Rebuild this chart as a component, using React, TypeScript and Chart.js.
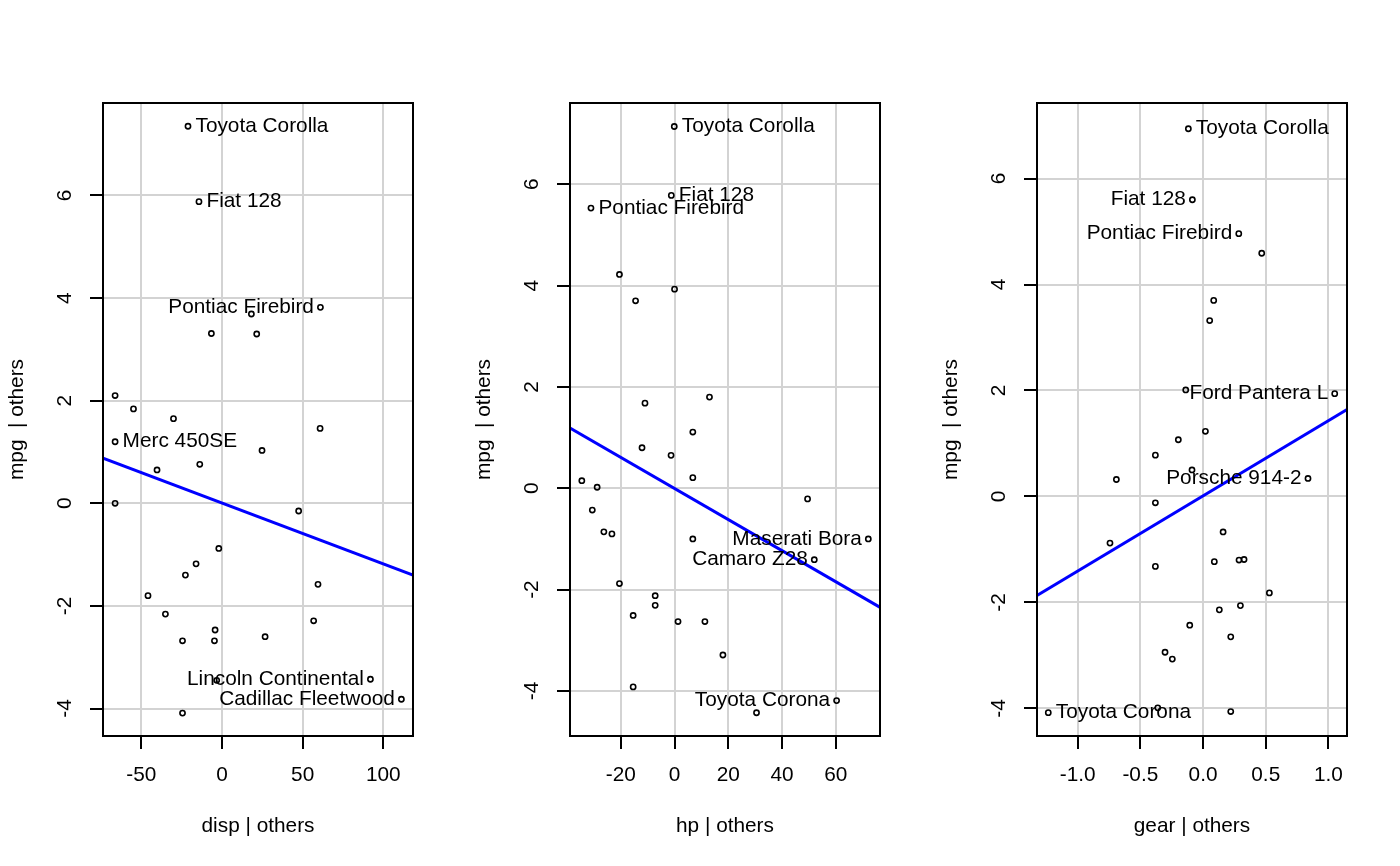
import React, { useEffect, useRef } from 'react';
import { Chart, registerables } from 'chart.js';

Chart.register(...registerables);

const FONT_FAMILY = '"Liberation Sans", Arial, Helvetica, sans-serif';
const FONT_SIZE = 20.8;

// ---------- shared ----------
const yTicks = [-4, -2, 0, 2, 4, 6];
const yTickLabels = ['-4', '-2', '0', '2', '4', '6'];
const yTitle = 'mpg  | others';

// ---------- panel 1 : disp ----------
const dispX = [-21.1, -14.3, 61.0, -66.3, 92.0, 111.2,
  18.2, -6.6, 21.5, -66.3, -54.9, -30.1, 60.8, 24.8, -40.3, -13.8, -66.3, 47.5,
  -2.0, -16.1, -22.7, -45.9, 59.5, -35.1, 56.8, -4.3, -24.5, -4.7, 26.7, -3.3, -24.5];
const dispY = [7.35, 5.88, 3.82, 1.20, -3.43, -3.82,
  3.69, 3.31, 3.30, 2.10, 1.84, 1.65, 1.46, 1.03, 0.65, 0.76, 0.0, -0.15,
  -0.88, -1.18, -1.40, -1.80, -1.58, -2.16, -2.29, -2.47, -2.68, -2.68, -2.60, -3.45, -4.09];
const dispNames = ['Toyota Corolla', 'Fiat 128', 'Pontiac Firebird', 'Merc 450SE', 'Lincoln Continental', 'Cadillac Fleetwood'];
const dispSides = ['right', 'right', 'left', 'right', 'left', 'left'];
const dispTicks = [-50, 0, 50, 100];
const dispTickLabels = ['-50', '0', '50', '100'];
const dispLineX = [-73.8, 118.4];
const dispLineY = [0.88, -1.40];

// ---------- panel 2 : hp ----------
const hpX = [-0.1, -1.2, -31.1, 72.1, 52.0, 60.3,
  -20.5, -14.5, 0.0, -11.0, 13.0, 6.8, -12.1, -1.3, 6.8, -34.5, -28.8, -30.6, 49.5,
  -26.3, -23.3, 6.8, -20.5, -7.2, -7.2, -15.4, 1.3, 11.3, 18.0, -15.4, 30.5];
const hpY = [7.14, 5.78, 5.53, -1.00, -1.41, -4.19,
  4.22, 3.70, 3.93, 1.68, 1.80, 1.11, 0.80, 0.65, 0.21, 0.15, 0.02, -0.43, -0.21,
  -0.86, -0.90, -1.00, -1.88, -2.12, -2.31, -2.51, -2.63, -2.63, -3.29, -3.92, -4.43];
const hpNames = ['Toyota Corolla', 'Fiat 128', 'Pontiac Firebird', 'Maserati Bora', 'Camaro Z28', 'Toyota Corona'];
const hpSides = ['right', 'right', 'right', 'left', 'left', 'left'];
const hpTicks = [-20, 0, 20, 40, 60];
const hpTickLabels = ['-20', '0', '20', '40', '60'];
const hpLineX = [-38.9, 76.5];
const hpLineY = [1.19, -2.35];

// ---------- panel 3 : gear ----------
const gearX = [-0.117, -0.085, 0.285, 1.050, 0.837, -1.234,
  0.468, 0.085, 0.053, -0.138, 0.019, -0.197, -0.380, -0.088, -0.691, -0.380,
  -0.742, 0.160, -0.380, 0.090, 0.287, 0.327, 0.529, 0.130, 0.298, -0.106, 0.221,
  -0.303, -0.245, -0.361, 0.221];
const gearY = [6.94, 5.60, 4.96, 1.94, 0.34, -4.08,
  4.59, 3.70, 3.32, 2.01, 1.23, 1.07, 0.78, 0.50, 0.32, -0.12,
  -0.88, -0.67, -1.32, -1.23, -1.20, -1.19, -1.82, -2.14, -2.06, -2.43, -2.65,
  -2.94, -3.07, -3.99, -4.06];
const gearNames = ['Toyota Corolla', 'Fiat 128', 'Pontiac Firebird', 'Ford Pantera L', 'Porsche 914-2', 'Toyota Corona'];
const gearSides = ['right', 'left', 'left', 'left', 'left', 'right'];
const gearTicks = [-1.0, -0.5, 0.0, 0.5, 1.0];
const gearTickLabels = ['-1.0', '-0.5', '0.0', '0.5', '1.0'];
const gearLineX = [-1.324, 1.148];
const gearLineY = [-1.87, 1.64];

type PanelProps = {
  left: number;
  xs: number[];
  ys: number[];
  names: string[];
  sides: string[];
  xTicks: number[];
  xTickLabels: string[];
  xMin: number;
  xMax: number;
  yMin: number;
  yMax: number;
  lineX: number[];
  lineY: number[];
  xTitle: string;
};

const W = 466;
const H = 866;

function Panel(p: PanelProps) {
  const ref = useRef<HTMLCanvasElement | null>(null);
  useEffect(() => {
    if (!ref.current) return;
    const font = { family: FONT_FAMILY, size: FONT_SIZE };
    const decor = {
      id: 'decor',
      afterDatasetsDraw(chart: any) {
        const ctx = chart.ctx;
        const meta = chart.getDatasetMeta(1);
        ctx.save();
        ctx.font = `${FONT_SIZE}px ${FONT_FAMILY}`;
        ctx.fillStyle = '#000';
        ctx.textBaseline = 'middle';
        p.names.forEach((name, i) => {
          const el = meta.data[i];
          if (!el || !name) return;
          if (p.sides[i] === 'right') {
            ctx.textAlign = 'left';
            ctx.fillText(name, el.x + 7.5, el.y);
          } else {
            ctx.textAlign = 'right';
            ctx.fillText(name, el.x - 6.5, el.y);
          }
        });
        ctx.restore();
      },
      afterDraw(chart: any) {
        const { ctx, chartArea } = chart;
        ctx.save();
        ctx.strokeStyle = '#000';
        ctx.lineWidth = 2;
        ctx.strokeRect(chartArea.left, chartArea.top, chartArea.right - chartArea.left, chartArea.bottom - chartArea.top);
        ctx.restore();
      },
    };
    const chart = new Chart(ref.current, {
      type: 'scatter',
      data: {
        datasets: [
          {
            type: 'line',
            data: p.lineX.map((x, i) => ({ x, y: p.lineY[i] })),
            borderColor: '#0000FF',
            borderWidth: 3,
            pointRadius: 0,
            showLine: true,
            fill: false,
            tension: 0,
          } as any,
          {
            data: p.xs.map((x, i) => ({ x, y: p.ys[i] })),
            pointStyle: 'circle',
            pointRadius: 2.6,
            pointBorderWidth: 1.6,
            borderColor: '#000',
            backgroundColor: 'rgba(0,0,0,0)',
            pointBackgroundColor: 'rgba(0,0,0,0)',
            pointBorderColor: '#000',
          } as any,
        ],
      },
      options: {
        animation: false,
        responsive: false,
        maintainAspectRatio: false,
        events: [],
        layout: { padding: { top: 103, right: 53, left: 0, bottom: 0 } },
        plugins: { legend: { display: false }, tooltip: { enabled: false }, title: { display: false } },
        scales: {
          x: {
            type: 'linear',
            min: p.xMin,
            max: p.xMax,
            afterBuildTicks: (s: any) => {
              s.ticks = p.xTicks.map((v) => ({ value: v }));
            },
            afterFit: (s: any) => {
              s.height = 130;
            },
            ticks: {
              autoSkip: false,
              maxRotation: 0,
              minRotation: 0,
              padding: 13.5,
              color: '#000',
              font,
              callback: (_v: any, i: number) => p.xTickLabels[i],
            },
            grid: { color: '#D3D3D3', lineWidth: 2, tickColor: '#000', tickLength: 13, tickWidth: 2 },
            border: { display: false },
            title: { display: true, text: p.xTitle, color: '#000', font, padding: { top: 0, bottom: 27.5 } },
          },
          y: {
            type: 'linear',
            min: p.yMin,
            max: p.yMax,
            afterBuildTicks: (s: any) => {
              s.ticks = yTicks.map((v) => ({ value: v }));
            },
            afterFit: (s: any) => {
              s.width = 103;
            },
            ticks: {
              autoSkip: false,
              minRotation: 90,
              maxRotation: 90,
              crossAlign: 'center',
              padding: 15.75,
              color: '#000',
              font,
              callback: (_v: any, i: number) => yTickLabels[i],
            },
            grid: { color: '#D3D3D3', lineWidth: 2, tickColor: '#000', tickLength: 13, tickWidth: 2 },
            border: { display: false },
            title: { display: true, text: yTitle, color: '#000', font, padding: { top: 4.5, bottom: 0 } },
          },
        },
      } as any,
      plugins: [decor],
    });
    return () => chart.destroy();
  }, []);
  return (
    <canvas
      ref={ref}
      width={W}
      height={H}
      style={{ position: 'absolute', left: p.left, top: 0, width: W, height: H }}
    />
  );
}

export default function App() {
  return (
    <div style={{ position: 'fixed', left: 0, top: 0, width: 1400, height: 866, background: '#fff' }}>
      <Panel
        left={0}
        xs={dispX}
        ys={dispY}
        names={dispNames}
        sides={dispSides}
        xTicks={dispTicks}
        xTickLabels={dispTickLabels}
        xMin={-73.8}
        xMax={118.4}
        yMin={-4.536}
        yMax={7.803}
        lineX={dispLineX}
        lineY={dispLineY}
        xTitle="disp | others"
      />
      <Panel
        left={467}
        xs={hpX}
        ys={hpY}
        names={hpNames}
        sides={hpSides}
        xTicks={hpTicks}
        xTickLabels={hpTickLabels}
        xMin={-38.9}
        xMax={76.45}
        yMin={-4.889}
        yMax={7.604}
        lineX={hpLineX}
        lineY={hpLineY}
        xTitle="hp | others"
      />
      <Panel
        left={934}
        xs={gearX}
        ys={gearY}
        names={gearNames}
        sides={gearSides}
        xTicks={gearTicks}
        xTickLabels={gearTickLabels}
        xMin={-1.324}
        xMax={1.148}
        yMin={-4.521}
        yMax={7.426}
        lineX={gearLineX}
        lineY={gearLineY}
        xTitle="gear | others"
      />
    </div>
  );
}
